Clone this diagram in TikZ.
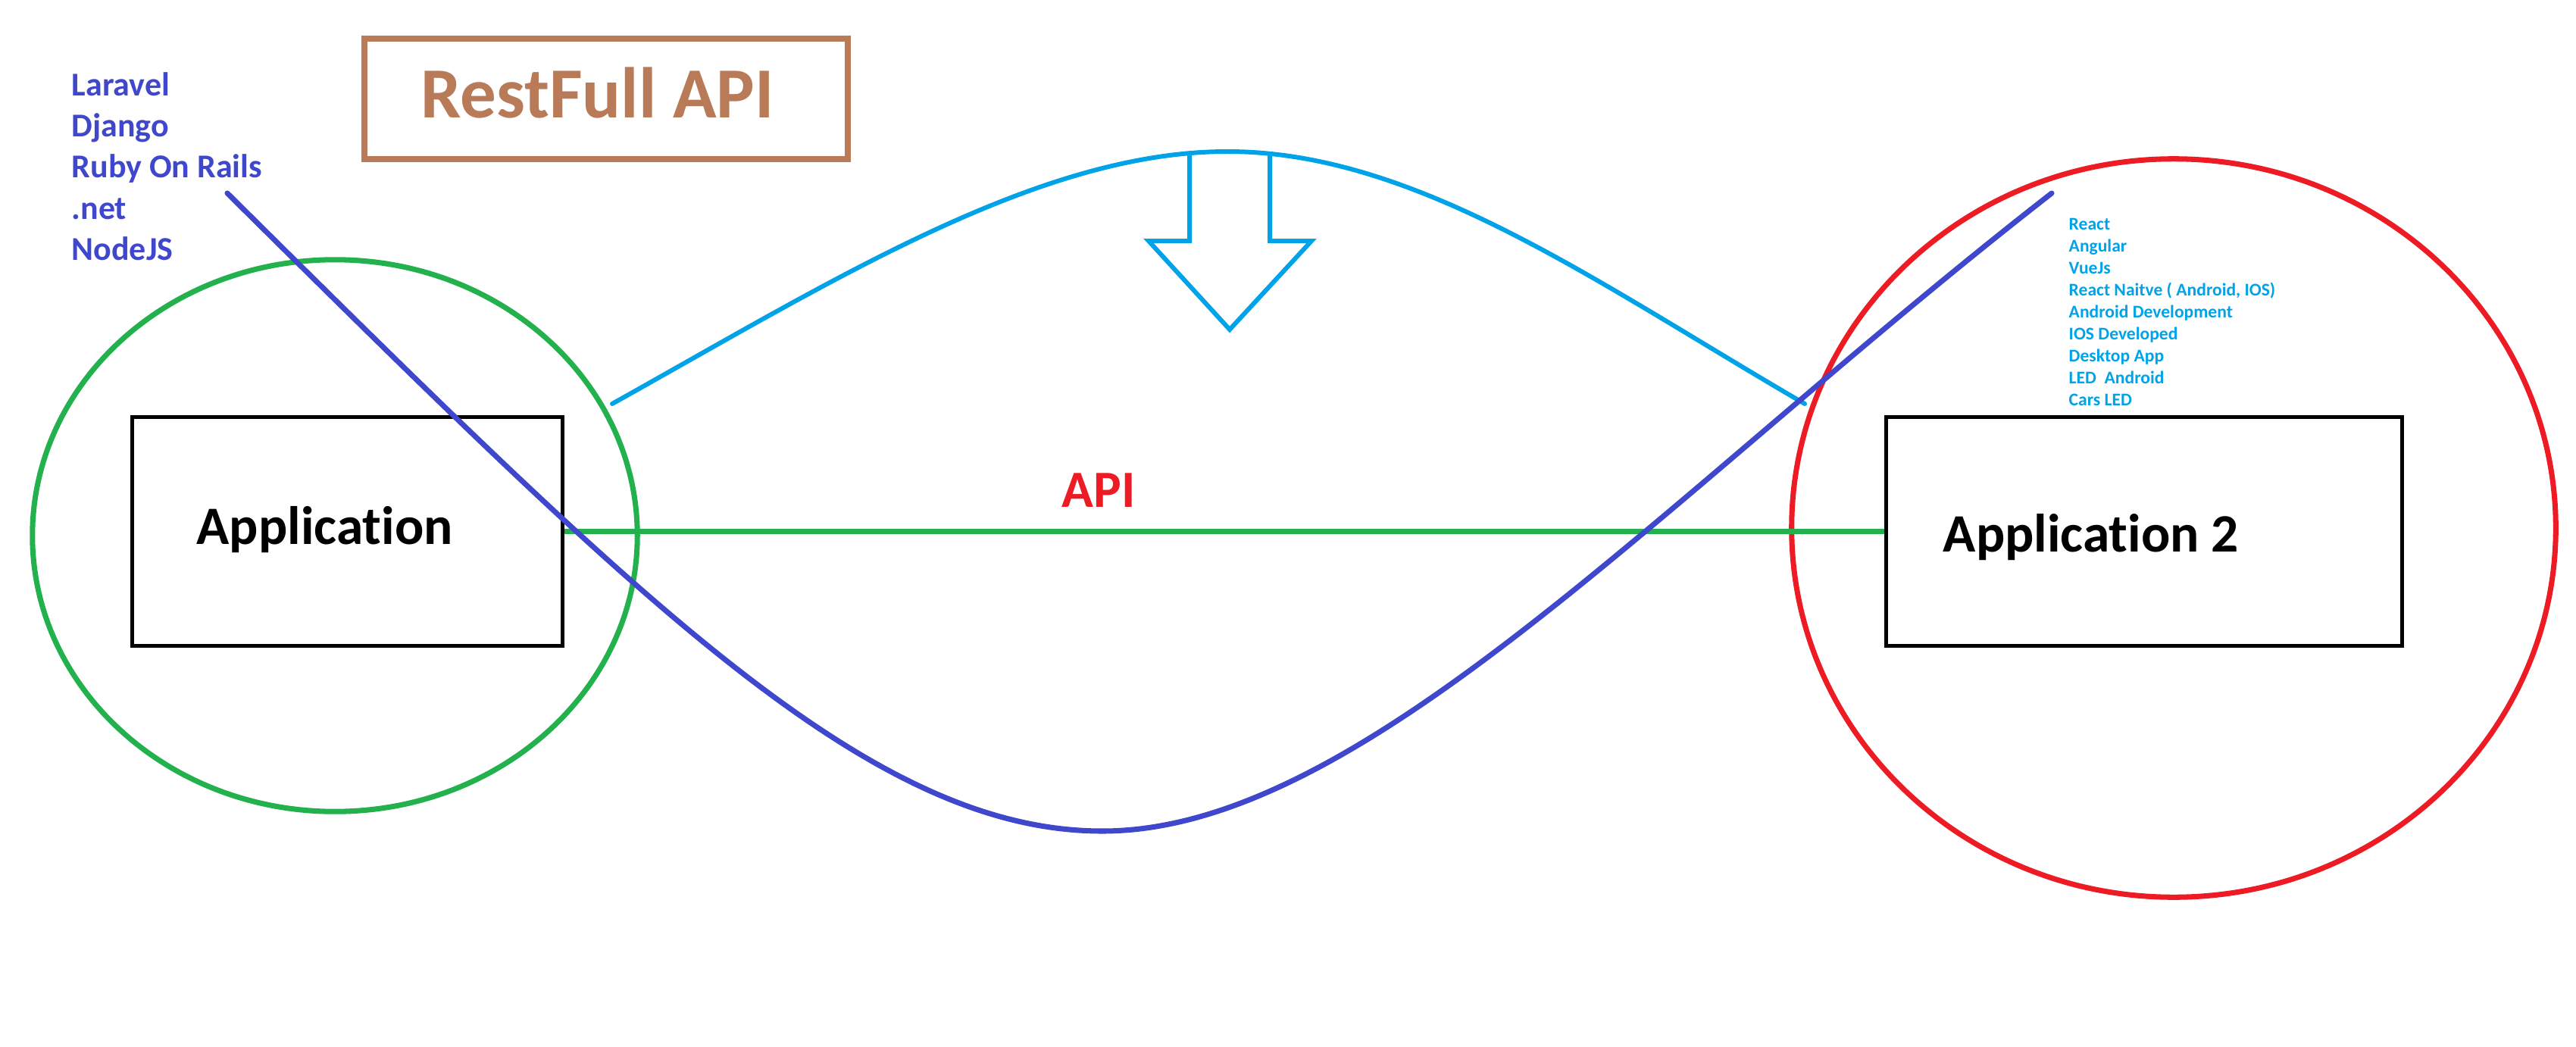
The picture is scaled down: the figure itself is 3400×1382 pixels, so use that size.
\documentclass[tikz,border=0pt]{standalone}
\usepackage{fontspec}
\setmainfont{Carlito}[Ligatures={NoCommon}]
\usetikzlibrary{shapes.geometric}
\definecolor{pgreen}{HTML}{22B14C}
\definecolor{pred}{HTML}{ED1C24}
\definecolor{pindigo}{HTML}{3F48CC}
\definecolor{pturq}{HTML}{00A2E8}
\definecolor{pbrown}{HTML}{B97A57}
\begin{document}
\begin{tikzpicture}[x=0.01cm,y=-0.01cm,
  appbox/.style={draw=black, line width=1.4pt, rectangle, inner sep=0pt, minimum height=3.02cm},
  ring/.style={draw, ellipse, line width=2pt, inner sep=0pt},
  txt/.style={inner sep=0pt, anchor=base west, font=\bfseries},
  apptext/.style={txt, font=\bfseries\fontsize{20.3}{24}\selectfont},
  backlist/.style={txt, text=pindigo, font=\bfseries\fontsize{12.5}{15}\selectfont},
  frontlist/.style={txt, text=pturq, font=\bfseries\fontsize{6.7}{8}\selectfont},
  wave/.style={line width=2pt, line cap=round, draw=pindigo},
  arch/.style={line width=1.7pt, line cap=round, line join=miter, draw=pturq}]
\useasboundingbox (0,0) rectangle (3400,1382);

% circles
\node[ring, draw=pgreen, minimum width=7.98cm, minimum height=7.28cm] (lring) at (442,707) {};
\node[ring, draw=pred, minimum width=10.08cm, minimum height=9.74cm] (rring) at (2869,697) {};

% title box
\node[draw=pbrown, line width=2.3pt, inner sep=0pt, minimum width=6.38cm, minimum height=1.59cm] (title) at (800,130.5) {};
\node[txt, text=pbrown, font=\bfseries\fontsize{27}{32}\selectfont] (titletext) at (555,156) {RestFull API};

% application boxes
\node[appbox, minimum width=5.68cm] (app1) at (458.5,701.5) {};
\node[appbox, minimum width=6.81cm] (app2) at (2830,701.5) {};
\node[apptext] (app1text) at (259,718) {Application};
\node[apptext] (app2text) at (2564,728) {Application 2};

% API connector
\draw[pgreen, line width=2.2pt] (app1.east) -- (app2.west);
\node[txt, text=pred, font=\bfseries\fontsize{19.6}{24}\selectfont] (apitext) at (1401,669) {API};

% back-end list
\foreach \t [count=\i from 0] in {Laravel,Django,Ruby On Rails,.net,NodeJS}
  \node[backlist] (back\i) at (94,127+54*\i) {\t};

% front-end list
\foreach \t [count=\i from 0] in {React,Angular,VueJs,{React Naitve ( Android, IOS)},Android Development,IOS Developed,Desktop App,LED\ \ Android,Cars LED}
  \node[frontlist] (front\i) at (2730,303+29*\i) {\t};

% turquoise arch with arrow
\coordinate (archL) at (808,533);
\coordinate (archTop) at (1620,200);
\coordinate (archR) at (2382,533);
\draw[arch] (archL) .. controls (1100,370) and (1370,200) .. (archTop)
  .. controls (1870,200) and (2110,375) .. (archR);
\draw[arch] (1570,204) -- (1570,318) -- (1516,318) -- (1623,435) -- (1731,318) -- (1676,318) -- (1676,204);

% indigo wave
\coordinate (waveL) at (300,255);
\coordinate (waveBot) at (1455,1097);
\coordinate (waveR) at (2708,255);
\draw[wave] (waveL) .. controls (850,800) and (1150,1097) .. (waveBot)
  .. controls (1800,1097) and (2200,650) .. (waveR);
\end{tikzpicture}
\end{document}
